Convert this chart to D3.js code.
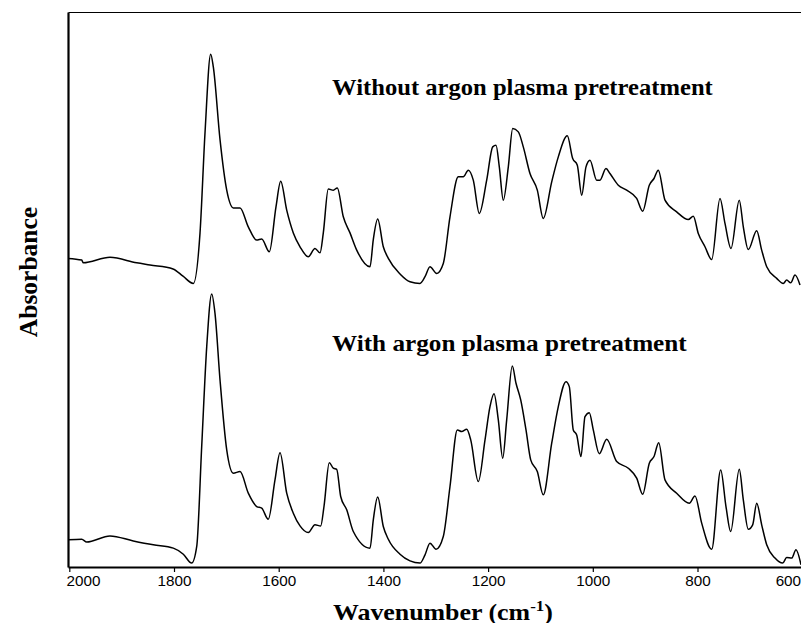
<!DOCTYPE html>
<html>
<head>
<meta charset="utf-8">
<script src="https://cdn.jsdelivr.net/npm/d3@7"></script>
<style>
  html, body { margin: 0; padding: 0; background: #fff; }
  svg { display: block; }
</style>
</head>
<body>
<svg id="chart" width="801" height="623"></svg>
<script>
// Wavenumber (cm-1) and absorbance (arbitrary units)
const wnWithout = [2002.5,1976.3,1973.3,1922.3,1871.3,1845.8,1801.9,1782.8,1763.1,1750.3,1740.8,1729.9,1724.9,1712.1,1699.3,1686.7,1673.9,1658.1,1642.0,1632.5,1617.9,1605.2,1596.2,1584.7,1572.1,1559.3,1543.5,1530.7,1521.1,1514.8,1505.3,1495.7,1488.1,1476.6,1463.8,1451.0,1425.6,1419.3,1410.9,1400.2,1390.6,1368.3,1349.2,1330.1,1320.5,1311.0,1298.2,1285.6,1272.8,1256.9,1247.4,1237.8,1228.3,1216.8,1202.7,1191.2,1184.9,1178.6,1171.0,1161.4,1153.0,1142.3,1132.8,1120.0,1106.0,1094.6,1078.5,1065.9,1048.7,1038.4,1029.6,1021.2,1013.0,1005.4,992.6,986.3,974.8,967.2,951.3,935.3,916.2,904.7,892.1,883.1,874.9,862.1,839.8,817.6,808.0,798.5,785.7,772.9,757.0,747.5,736.0,720.2,712.5,703.0,686.9,677.4,667.8,648.7,636.1,629.6,622.0,613.7,604.2];
const absWithout = [0.556,0.553,0.548,0.558,0.548,0.544,0.537,0.524,0.511,0.602,0.782,0.924,0.901,0.770,0.679,0.647,0.647,0.613,0.589,0.591,0.568,0.649,0.695,0.643,0.602,0.577,0.559,0.574,0.566,0.602,0.681,0.679,0.683,0.631,0.602,0.571,0.541,0.590,0.627,0.577,0.556,0.528,0.514,0.511,0.523,0.541,0.529,0.547,0.631,0.703,0.703,0.715,0.697,0.637,0.697,0.757,0.760,0.721,0.661,0.721,0.790,0.784,0.757,0.709,0.679,0.628,0.694,0.739,0.777,0.736,0.724,0.670,0.721,0.733,0.697,0.697,0.718,0.709,0.688,0.679,0.664,0.641,0.688,0.700,0.715,0.661,0.640,0.626,0.632,0.601,0.577,0.554,0.664,0.619,0.574,0.661,0.613,0.572,0.606,0.571,0.541,0.520,0.511,0.517,0.512,0.526,0.508];

const wnWith = [2001.9,1976.3,1966.8,1922.3,1877.8,1839.5,1801.3,1782.2,1766.2,1756.6,1747.1,1737.5,1728.0,1721.7,1712.1,1699.3,1686.7,1673.9,1658.1,1642.0,1632.5,1619.9,1607.1,1597.5,1584.7,1572.1,1559.3,1543.5,1530.7,1519.8,1513.5,1503.4,1495.7,1489.2,1481.6,1470.1,1457.5,1425.6,1419.3,1410.9,1400.2,1390.6,1368.3,1349.2,1330.1,1320.5,1311.0,1299.5,1285.6,1272.8,1258.8,1250.4,1240.9,1233.2,1218.7,1205.9,1196.4,1188.7,1180.5,1172.1,1164.5,1153.8,1146.7,1137.7,1127.6,1118.6,1106.0,1094.6,1078.5,1065.9,1051.2,1044.9,1037.3,1030.8,1022.6,1014.9,1006.7,999.1,987.6,973.5,954.4,932.2,916.2,904.7,892.1,883.1,874.1,862.1,839.8,815.7,804.8,792.0,772.9,755.7,745.6,736.6,720.2,712.5,703.0,694.6,686.9,677.4,667.8,652.0,637.3,629.6,620.1,611.9,602.3];
const absWith = [0.049,0.050,0.045,0.056,0.047,0.040,0.034,0.023,0.007,0.037,0.217,0.397,0.492,0.457,0.337,0.211,0.169,0.172,0.133,0.109,0.106,0.086,0.157,0.206,0.133,0.097,0.074,0.062,0.076,0.074,0.109,0.188,0.178,0.176,0.127,0.103,0.064,0.034,0.085,0.126,0.073,0.050,0.023,0.011,0.007,0.022,0.043,0.032,0.055,0.145,0.247,0.244,0.248,0.229,0.154,0.229,0.289,0.312,0.265,0.196,0.265,0.362,0.331,0.301,0.247,0.193,0.172,0.130,0.223,0.289,0.334,0.325,0.247,0.238,0.199,0.271,0.278,0.247,0.204,0.230,0.190,0.178,0.160,0.131,0.187,0.199,0.224,0.157,0.133,0.115,0.128,0.079,0.032,0.175,0.109,0.064,0.176,0.121,0.068,0.076,0.115,0.076,0.040,0.016,0.007,0.017,0.016,0.031,0.004];

const xTicks = [2000,1800,1600,1400,1200,1000,800,600];
const seriesLabels = ["Without argon plasma pretreatment", "With argon plasma pretreatment"];
const xTitle = "Wavenumber (cm";
const xTitleSup = "-1";
const yTitle = "Absorbance";

(function draw() {
  const svg = d3.select("#chart");
  svg.append("rect").attr("width", 801).attr("height", 623).attr("fill", "#fff");

  const pLeft = 68, pTop = 12, pBottom = 567, pRight = 801;
  const x = d3.scaleLinear().domain([2002.5, 600]).range([68, 802.2]);
  const y = d3.scaleLinear().domain([0, 1]).range([pBottom, pTop]);

  svg.append("defs").append("clipPath").attr("id", "plotclip")
    .append("rect").attr("x", pLeft).attr("y", pTop - 2).attr("width", pRight - pLeft + 5).attr("height", pBottom - pTop + 4);

  const line = d3.line()
    .x(d => x(d[0]))
    .y(d => y(d[1]))
    .curve(d3.curveMonotoneX);

  const plot = svg.append("g").attr("clip-path", "url(#plotclip)");
  [[wnWithout, absWithout], [wnWith, absWith]].forEach(([wn, ab]) => {
    plot.append("path")
      .datum(wn.map((w, i) => [w, ab[i]]))
      .attr("d", line)
      .attr("fill", "none")
      .attr("stroke", "#000")
      .attr("stroke-width", 1.5)
      .attr("stroke-linejoin", "round");
  });

  // Axes
  const xAxis = svg.append("g")
    .attr("transform", `translate(0,${pBottom})`)
    .call(d3.axisBottom(x).tickValues(xTicks).tickSize(5).tickSizeOuter(0).tickFormat(d3.format("d")));
  xAxis.select(".domain").attr("stroke", "#000").attr("stroke-width", 2.2);
  xAxis.selectAll(".tick line").attr("stroke", "#000").attr("stroke-width", 1.2);
  xAxis.selectAll(".tick text")
    .attr("font-family", "'Liberation Sans', Arial, sans-serif")
    .attr("font-size", 14)
    .attr("fill", "#000")
    .attr("dy", null)
    .attr("y", 19)
    .attr("transform", "scale(1.09,1)")
    .each(function(d) {
      const t = d3.select(this);
      if (d === 2000) t.attr("text-anchor", "start").attr("x", -3);
      if (d === 600) t.attr("text-anchor", "end").attr("x", -1.5);
    });

  const yAxis = svg.append("g")
    .attr("transform", `translate(${pLeft},0)`)
    .call(d3.axisLeft(y).tickValues([]).tickSizeOuter(0));
  yAxis.select(".domain").attr("stroke", "#000").attr("stroke-width", 2.2);

  const topAxis = svg.append("g")
    .attr("transform", `translate(0,${pTop})`)
    .call(d3.axisTop(x).tickValues([]).tickSizeOuter(0));
  topAxis.select(".domain").attr("stroke", "#000").attr("stroke-width", 1.2);

  // Series labels
  const serif = "'Liberation Serif', 'Times New Roman', serif";
  function stretchedText(str, tx, ty, width, size) {
    const t = svg.append("text")
      .attr("font-family", serif)
      .attr("font-weight", "bold")
      .attr("font-size", size)
      .attr("fill", "#000")
      .text(str);
    const w = t.node().getComputedTextLength();
    t.attr("transform", `translate(${tx},${ty}) scale(${width / w},1)`);
    return t;
  }
  stretchedText(seriesLabels[0], 332, 95, 381, 23);
  stretchedText(seriesLabels[1], 332, 350.5, 355, 23);

  // X title with superscript
  const xt = svg.append("text")
    .attr("font-family", serif)
    .attr("font-weight", "bold")
    .attr("font-size", 23)
    .attr("fill", "#000");
  xt.append("tspan").text(xTitle);
  xt.append("tspan").attr("font-size", 15).attr("dy", -9).text(xTitleSup);
  xt.append("tspan").attr("dy", 9).text(")");
  const bw = xt.node().getBBox().width;
  xt.attr("transform", `translate(333,619.5) scale(${220 / bw},1)`);

  // Y title
  svg.append("text")
    .attr("font-family", serif)
    .attr("font-weight", "bold")
    .attr("font-size", 25.5)
    .attr("fill", "#000")
    .attr("text-anchor", "middle")
    .attr("transform", "translate(37,272) rotate(-90)")
    .text(yTitle);
})();
</script>
</body>
</html>
